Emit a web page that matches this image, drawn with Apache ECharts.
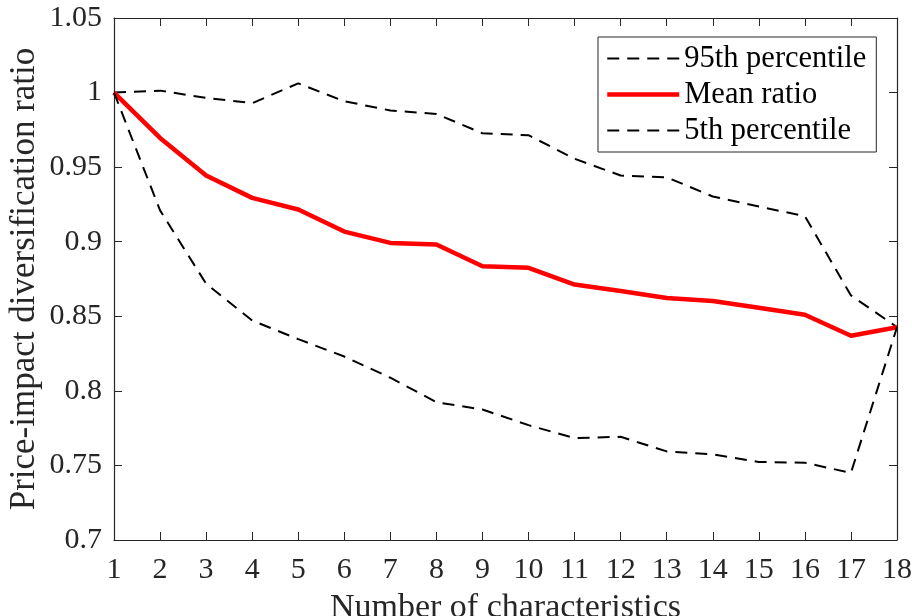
<!DOCTYPE html>
<html>
<head>
<meta charset="utf-8">
<script src="https://cdn.jsdelivr.net/npm/echarts@6/dist/echarts.min.js"></script>
<style>
  html, body { margin: 0; padding: 0; background: #fff; }
  #chart { width: 912px; height: 616px; }
</style>
</head>
<body>
<div id="chart"></div>
<script>
// Number of characteristics combined
const characteristics = [1, 2, 3, 4, 5, 6, 7, 8, 9, 10, 11, 12, 13, 14, 15, 16, 17, 18];
// Price-impact diversification ratio statistics
const pct95 = [1.000, 1.0013, 0.9964, 0.9929, 1.0062, 0.9942, 0.9880, 0.9857, 0.9727, 0.9714, 0.9556, 0.9444, 0.9432, 0.9303, 0.9236, 0.9171, 0.8640, 0.8427];
const meanRatio = [1.000, 0.9696, 0.9444, 0.9294, 0.9216, 0.9068, 0.8992, 0.8981, 0.8836, 0.8825, 0.8713, 0.8669, 0.8622, 0.8602, 0.8557, 0.8510, 0.8369, 0.8427];
const pct5 = [1.000, 0.9210, 0.8718, 0.8472, 0.8347, 0.8230, 0.8088, 0.7924, 0.7875, 0.7770, 0.7683, 0.7692, 0.7594, 0.7574, 0.7523, 0.7518, 0.7450, 0.8427];

const serif = '"Liberation Serif", "DejaVu Serif", serif';
const axisColor = '#262626';
const pairs = arr => characteristics.map((x, i) => [x, arr[i]]);

const chart = echarts.init(document.getElementById('chart'), null, { renderer: 'canvas' });

const tickStyle = { show: true, inside: true, length: 8, lineStyle: { color: axisColor, width: 1 } };
const lineStyleAxis = { show: true, onZero: false, lineStyle: { color: axisColor, width: 1.2 } };

const dashed = { color: '#000', width: 2, type: [12, 8] };
const solidRed = { color: '#ff0000', width: 4.5, type: 'solid' };

chart.setOption({
  animation: false,
  backgroundColor: '#fff',
  grid: { left: 114, right: 15, top: 18, bottom: 76, containLabel: false, outerBoundsMode: 'none' },
  legend: {
    orient: 'vertical',
    left: 598,
    top: 37,
    backgroundColor: '#fff',
    borderColor: axisColor,
    borderWidth: 1,
    borderRadius: 0,
    padding: [6, 10, 6, 7],
    itemWidth: 72,
    itemHeight: 14,
    itemGap: 5,
    textStyle: { fontFamily: serif, fontSize: 30.5, color: '#000', lineHeight: 30 },
    data: [
      { name: '95th percentile', lineStyle: dashed, itemStyle: { opacity: 0 } },
      { name: 'Mean ratio', lineStyle: solidRed, itemStyle: { opacity: 0 } },
      { name: '5th percentile', lineStyle: dashed, itemStyle: { opacity: 0 } }
    ]
  },
  xAxis: [
    {
      type: 'value', min: 1, max: 18, interval: 1, position: 'bottom',
      name: 'Number of characteristics', nameLocation: 'middle', nameGap: 51,
      nameMoveOverlap: false,
      nameTextStyle: { fontFamily: serif, fontSize: 34, color: axisColor, verticalAlign: 'top' },
      axisLine: lineStyleAxis, axisTick: tickStyle, splitLine: { show: false },
      axisLabel: { fontFamily: serif, fontSize: 30, color: axisColor, margin: 15 }
    },
    {
      type: 'value', min: 1, max: 18, interval: 1, position: 'top',
      axisLine: lineStyleAxis, axisTick: tickStyle, splitLine: { show: false },
      axisLabel: { show: false }
    }
  ],
  yAxis: [
    {
      type: 'value', min: 0.7, max: 1.05, interval: 0.05, position: 'left',
      name: 'Price-impact diversification ratio', nameLocation: 'middle', nameGap: 72,
      nameMoveOverlap: false,
      nameTextStyle: { fontFamily: serif, fontSize: 35, color: axisColor },
      axisLine: lineStyleAxis, axisTick: tickStyle, splitLine: { show: false },
      axisLabel: {
        fontFamily: serif, fontSize: 30, color: axisColor, margin: 12,
        formatter: v => String(parseFloat(v.toFixed(2)))
      }
    },
    {
      type: 'value', min: 0.7, max: 1.05, interval: 0.05, position: 'right',
      axisLine: lineStyleAxis, axisTick: tickStyle, splitLine: { show: false },
      axisLabel: { show: false }
    }
  ],
  series: [
    {
      name: '95th percentile', type: 'line', xAxisIndex: 0, yAxisIndex: 0,
      data: pairs(pct95), showSymbol: false, symbol: 'none',
      lineStyle: dashed, itemStyle: { color: '#000' }
    },
    {
      name: 'Mean ratio', type: 'line', xAxisIndex: 0, yAxisIndex: 0,
      data: pairs(meanRatio), showSymbol: false, symbol: 'none',
      lineStyle: solidRed, itemStyle: { color: '#ff0000' }
    },
    {
      name: '5th percentile', type: 'line', xAxisIndex: 0, yAxisIndex: 0,
      data: pairs(pct5), showSymbol: false, symbol: 'none',
      lineStyle: dashed, itemStyle: { color: '#000' }
    }
  ]
});
</script>
</body>
</html>
